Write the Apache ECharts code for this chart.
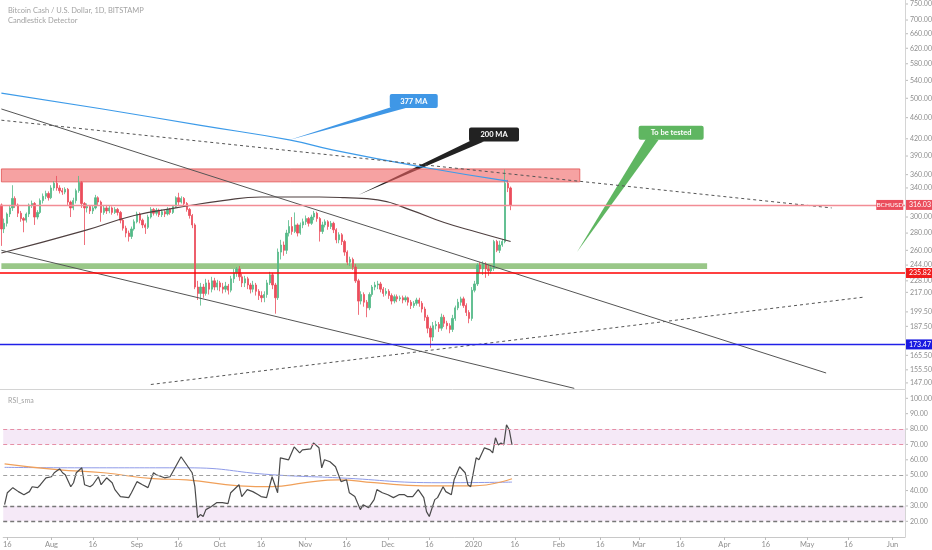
<!DOCTYPE html>
<html><head><meta charset="utf-8">
<script src="https://cdn.jsdelivr.net/npm/echarts@6/dist/echarts.min.js"></script>
<style>html,body{margin:0;padding:0;background:#fff}#c{width:932px;height:550px}</style>
</head><body><div id="c"></div>
<script>
// ---------- DATA ----------
const startDate = [2019, 6, 15];   // 2019-07-15 (UTC, month 0-based)
const dayCount = 327;              // axis runs to early June 2020

const opens  = [316,285,292,304,312,325,316,305,298,296,304,316,318,300,306,322,328,332,326,340,
347,340,336,334,338,320,312,322,336,348,318,312,314,308,312,326,320,306,312,308,
312,306,310,306,296,286,280,276,285,294,304,296,290,287,300,310,305,309,303,307,
304,310,306,314,326,320,325,318,310,302,290,222,216,222,216,226,220,228,222,226,
222,220,223,219,230,236,240,232,226,230,224,220,224,218,214,212,215,226,234,224,
212,258,266,260,280,288,282,290,280,290,294,298,292,300,305,298,282,290,294,288,
292,284,272,278,270,258,247,250,242,228,209,215,208,203,215,222,224,225,220,216,
218,214,209,213,211,212,210,212,208,205,207,210,207,202,195,186,179,188,189,186,
195,190,188,185,194,203,208,211,205,199,194,219,225,244,240,245,240,238,241,270,
260,266,270,347,340];
const closes = [285,292,304,312,325,316,305,298,296,304,316,318,300,306,322,328,332,326,340,347,
340,336,334,338,320,312,322,336,348,318,312,314,308,312,326,320,306,312,308,312,
306,310,306,296,286,280,276,285,294,304,296,290,287,300,310,305,309,303,307,304,
310,306,314,326,320,325,318,310,302,290,222,216,222,216,226,220,228,222,226,222,
220,223,219,230,236,240,232,226,230,224,220,224,218,214,212,215,226,234,224,212,
258,266,260,280,288,282,290,280,290,294,298,292,300,305,298,282,290,294,288,292,
284,272,278,270,258,247,250,242,228,209,215,208,203,215,222,224,225,220,216,218,
214,209,213,211,212,210,212,208,205,207,210,207,202,195,186,179,188,189,186,195,
190,188,185,194,203,208,211,205,199,194,219,225,244,240,245,240,238,241,270,260,
266,270,347,340,316.03];
const highs  = [318,298,306,316,344,328,318,308,300,306,318,322,320,309,325,332,336,335,344,350,
358,344,340,341,340,322,326,339,358,350,320,318,316,315,330,328,322,316,316,315,
314,313,312,308,298,289,283,288,297,307,306,298,292,303,313,312,312,311,310,309,
313,312,316,328,333,328,327,320,312,304,292,228,226,225,230,229,232,231,229,228,
226,227,225,233,240,242,243,235,233,232,226,228,226,220,218,218,229,237,236,226,
262,272,270,284,296,300,306,292,293,298,302,300,303,308,307,300,294,297,296,295,
294,286,281,280,272,260,253,252,245,230,218,217,210,217,224,227,228,227,222,221,
220,216,215,215,214,214,214,213,210,209,212,212,209,204,197,188,191,192,191,198,
197,192,190,197,205,211,213,213,207,201,222,228,246,247,248,247,244,244,272,272,
271,273,368,352,342];
const lows   = [265,280,288,300,308,312,300,294,281,293,300,312,290,297,304,318,324,322,324,336,
336,332,330,331,316,300,309,318,333,312,266,306,304,304,310,316,294,303,304,305,
303,304,302,292,283,275,270,273,283,292,292,286,279,285,298,302,302,300,300,300,
302,303,304,312,316,318,314,307,298,286,220,210,205,212,214,215,217,219,219,218,
216,217,215,217,226,232,228,222,222,220,216,217,214,210,208,208,212,224,220,198,
210,250,254,256,276,278,280,276,278,286,290,288,290,296,294,270,279,287,284,285,
280,268,268,266,254,244,243,239,226,197,206,204,195,201,213,219,220,217,213,214,
211,206,207,208,209,207,208,205,202,203,205,204,199,192,182,171,176,185,183,184,
187,185,182,183,192,201,205,203,196,190,192,217,223,236,234,231,233,235,238,258,
257,264,268,334,309];

// moving averages on price pane: [candle index, price]
const ma377 = [[0,511],[36,478],[72,445],[104,418],[120,400],[152,372],[183,350]];
const ma200 = [[0,257],[30,283],[48,302],[63,312],[80,322],[94,327],[115,327],[124,326],[136,323],[148,309],[160,293],[172,281],[184,270]];

// RSI pane: [candle index, value]
const rsi = [[0,30.8],[1,38.6],[3,41.9],[5,39.3],[7,37.3],[9,39.3],[10,42.5],[12,41.9],[13,43.8],[15,48.3],[17,49],[18,51.6],[20,54.2],[21,51.6],[22,50.3],[24,42.5],[25,45.1],[26,51.6],[28,54.8],[29,43.8],[31,42.5],[32,43.8],[34,49],[35,43.8],[37,48.3],[39,45.1],[40,40.6],[42,36.1],[45,35.4],[46,38.6],[48,45.8],[50,43.8],[52,41.9],[54,51.6],[55,50.3],[58,48.3],[60,49],[62,55.5],[64,62],[66,56.8],[68,51.6],[69,42.5],[70,22.4],[71,24.4],[72,23.1],[73,27.6],[75,29.6],[77,32.2],[79,32.2],[81,31.5],[82,38.6],[85,43.8],[86,36.1],[88,40.6],[90,39.3],[92,37.3],[93,36.1],[95,35.4],[97,49],[99,38.6],[100,61.3],[103,60],[105,68.4],[107,64.5],[108,66.5],[111,67.1],[112,71],[114,67.8],[115,54.8],[116,60],[118,58.7],[120,55.5],[122,45.8],[124,47],[125,38.6],[127,36.1],[129,27.6],[130,30.8],[132,28.9],[134,34.1],[135,40.6],[137,38.6],[139,37.3],[141,35.4],[143,37.3],[145,37.3],[146,36.1],[148,36.1],[150,40.6],[152,35.4],[153,26.3],[154,23.1],[156,34.1],[157,35.4],[159,42.5],[160,39.3],[162,37.3],[163,47],[165,55.5],[167,51.6],[168,43.8],[169,42.5],[171,61.3],[172,60],[174,67.8],[176,66.5],[177,64.5],[178,74.3],[179,69.7],[180,71],[181,69.7],[182,82.7],[183,79.5],[184,69.7]];
const rsiSlow = [[0,55.1],[28,54.8],[66,54.8],[97,50.3],[121,48.3],[158,45.1],[184,45.5]];
const rsiSma  = [[0,57.4],[19,53.6],[36,51.6],[54,47.7],[66,47],[85,43.1],[97,42.5],[109,45.1],[121,47],[134,45.1],[152,43.1],[170,43.1],[184,47.7]];

// axis tick labels
const priceTicks = [750,700,660,620,580,540,500,460,420,390,360,340,300,280,260,244,228,217,199.5,187.5,165.5,155.5,147];
const rsiTicks = [100,90,80,70,60,50,40,30,20];
const monthNames = ['Jan','Feb','Mar','Apr','May','Jun','Jul','Aug','Sep','Oct','Nov','Dec'];

// levels / zones / drawings
const lastPrice = 316.03;
const supportLine = 235.82;
const lowLine = 173.47;
const redZone = {from:0, to:209, low:349, high:369};
const greenZone = {from:0, to:255, low:240, high:246};
const trendLines = [
  {from:[0,477.5], to:[298,153.4], dashed:false},
  {from:[0,260],   to:[207,143.6], dashed:false},
  {from:[0,455],   to:[300,312],   dashed:true},
  {from:[54,146],  to:[312,212.7], dashed:true}
];
const callouts = [
  {text:'377 MA', color:'#3f97e6', box:[149,494], tip:[104,418], w:48, base:[5,16]},
  {text:'200 MA', color:'#222222', box:[178,428], tip:[129,330], w:50, base:[4,15]},
  {text:'To be tested', color:'#5fb661', box:[242,431], tip:[208,258], w:65, base:[8,20]}
];

// ---------- BUILD ----------
const categories = [];
for (let i = 0; i < dayCount; i++) {
  const d = new Date(Date.UTC(startDate[0], startDate[1], startDate[2] + i));
  categories.push(d.getUTCFullYear() + '-' + String(d.getUTCMonth()+1).padStart(2,'0') + '-' + String(d.getUTCDate()).padStart(2,'0'));
}
const candleData = opens.map((o, i) => [o, closes[i], lows[i], highs[i]]);
const isLabelDay = (idx, v) => v.endsWith('-01') || v.endsWith('-16');
const fmtDay = v => {
  const p = v.split('-');
  if (p[2] === '16') return '16';
  if (p[2] === '01') return p[1] === '01' ? p[0] : monthNames[+p[1]-1];
  return '';
};
const UP = '#53b987', DOWN = '#eb4d5c';
const FONT = 'Lato, "DejaVu Sans", sans-serif';
const AX = '#d4d4d4';

const trendLineData = trendLines.map(t => [
  {coord: t.from, lineStyle: {color: '#555', width: 1, type: t.dashed ? [3,3] : 'solid'}},
  {coord: t.to}
]);
const boxLabel = (bg) => ({show:true, position:'end', distance:1, color:'#fff', backgroundColor:bg, padding:[2,3,1,3], fontSize:7, fontFamily:FONT});
const levelSeries = (value, color, width, bg) => ({
  type:'line', xAxisIndex:0, yAxisIndex:0, data:[], z:5, silent:true,
  markLine:{silent:true, symbol:['none','none'], animation:false,
    lineStyle:{color:color, width:width, type:'solid', opacity:1},
    label:boxLabel(bg), data:[{yAxis:value}]}
});

const chart = echarts.init(document.getElementById('c'), null, {renderer:'canvas'});
chart.setOption({
  animation: false,
  backgroundColor: '#fff',
  title: [
    {text:'Bitcoin Cash / U.S. Dollar, 1D, BITSTAMP', subtext:'Candlestick Detector', left:3, top:2, itemGap:2,
     textStyle:{fontSize:7.5, color:'#a3a3a3', fontWeight:'normal', fontFamily:FONT},
     subtextStyle:{fontSize:7.5, color:'#a3a3a3', fontFamily:FONT}},
    {text:'RSI_sma', left:3, top:392, textStyle:{fontSize:7, color:'#a3a3a3', fontWeight:'normal', fontFamily:FONT}}
  ],
  grid: [
    {left:0, right:27, top:0, height:389},
    {left:0, right:27, top:390, height:147}
  ],
  xAxis: [
    {type:'category', gridIndex:0, data:categories, boundaryGap:true,
     axisLine:{show:true, lineStyle:{color:AX}}, axisTick:{show:false}, axisLabel:{show:false}, splitLine:{show:false}},
    {type:'category', gridIndex:1, data:categories, boundaryGap:true,
     axisLine:{show:true, lineStyle:{color:'#c8c8c8'}},
     axisTick:{show:true, interval:isLabelDay, alignWithLabel:true, length:3, lineStyle:{color:'#bdbdbd'}},
     axisLabel:{show:true, interval:isLabelDay, formatter:fmtDay, fontSize:7.5, color:'#8f8f8f', margin:4, fontFamily:FONT},
     splitLine:{show:false}}
  ],
  yAxis: [
    {type:'log', gridIndex:0, position:'right', min:143.2, max:763, logBase:10,
     axisLine:{show:true, lineStyle:{color:AX}}, axisTick:{show:false}, axisLabel:{show:false}, splitLine:{show:false}},
    {type:'value', gridIndex:1, position:'right', min:9.8, max:105.4,
     axisLine:{show:true, lineStyle:{color:AX}}, axisTick:{show:false}, axisLabel:{show:false}, splitLine:{show:false}}
  ],
  series: [
    {
      name:'BCHUSD', type:'candlestick', xAxisIndex:0, yAxisIndex:0, data:candleData, barWidth:1.8,
      itemStyle:{color:UP, color0:DOWN, borderColor:UP, borderColor0:DOWN, borderWidth:0.8},
      markArea:{silent:true, data:[
        [{xAxis:redZone.from, yAxis:redZone.low, itemStyle:{color:'rgba(240,100,100,0.6)', borderColor:'rgba(225,80,80,0.8)', borderWidth:1}},
         {xAxis:redZone.to, yAxis:redZone.high}],
        [{xAxis:greenZone.from, yAxis:greenZone.low, itemStyle:{color:'rgba(110,175,85,0.7)'}},
         {xAxis:greenZone.to, yAxis:greenZone.high}]
      ]},
      markLine:{silent:true, symbol:['none','none'], label:{show:false}, data: trendLineData},
      markPoint:{silent:true, data:[
        {coord:[321, lastPrice], symbol:'rect', symbolSize:[27,10], itemStyle:{color:DOWN},
         label:{show:true, position:'inside', formatter:'BCHUSD', color:'#fff', fontSize:6.5, fontFamily:FONT}}
      ]}
    },
    levelSeries(lastPrice, '#f28c95', 1.3, DOWN),
    levelSeries(supportLine, '#ff0000', 1.5, '#f01c1c'),
    levelSeries(lowLine, '#2020e8', 1.4, '#1a1ae0'),
    {name:'MA377', type:'line', xAxisIndex:0, yAxisIndex:0, data:ma377, smooth:true, showSymbol:false,
     lineStyle:{color:'#3d9be9', width:1.2}, z:3},
    {name:'MA200', type:'line', xAxisIndex:0, yAxisIndex:0, data:ma200, smooth:true, showSymbol:false,
     lineStyle:{color:'#4f4040', width:1.2}, z:3},
    {name:'RSI', type:'line', xAxisIndex:1, yAxisIndex:1, data:rsi, showSymbol:false,
     lineStyle:{color:'#4a4a4a', width:1.2}, z:4,
     markArea:{silent:true, itemStyle:{color:'rgba(156,39,176,0.1)'}, data:[
       [{yAxis:70},{yAxis:80}], [{yAxis:20},{yAxis:30}]
     ]},
     markLine:{silent:true, symbol:['none','none'], label:{show:false}, data:[
       {yAxis:80, lineStyle:{color:'#e58fa6', width:1, type:[4,3]}},
       {yAxis:70, lineStyle:{color:'#e58fa6', width:1, type:[4,3]}},
       {yAxis:50, lineStyle:{color:'#a0a0a0', width:1, type:[4,3]}},
       {yAxis:30, lineStyle:{color:'#777', width:1.3, type:[4,3]}},
       {yAxis:20, lineStyle:{color:'#777', width:1.3, type:[4,3]}}
     ]}},
    {name:'RSI slow', type:'line', xAxisIndex:1, yAxisIndex:1, data:rsiSlow, smooth:true, showSymbol:false,
     lineStyle:{color:'#8f9be8', width:1}, z:3},
    {name:'RSI sma', type:'line', xAxisIndex:1, yAxisIndex:1, data:rsiSma, smooth:true, showSymbol:false,
     lineStyle:{color:'#f0a05a', width:1.2}, z:3}
  ]
});

// ---------- axis labels & callouts positioned through the library's scales ----------
const gfx = [];
const axisX = chart.getWidth() - 27;
const addTick = (y, txt) => {
  gfx.push({type:'line', silent:true, shape:{x1:axisX, y1:y, x2:axisX+3, y2:y}, style:{stroke:'#bbb', lineWidth:1}});
  gfx.push({type:'text', silent:true, x:axisX+5, y:y, style:{text:txt, fill:'#8f8f8f', fontSize:7, fontFamily:FONT, verticalAlign:'middle'}});
};
priceTicks.forEach(v => addTick(chart.convertToPixel({yAxisIndex:0}, v), v.toFixed(2)));
rsiTicks.forEach(v => addTick(chart.convertToPixel({yAxisIndex:1}, v), v.toFixed(2)));

callouts.forEach(c => {
  const b = chart.convertToPixel({xAxisIndex:0, yAxisIndex:0}, c.box);
  const t = chart.convertToPixel({xAxisIndex:0, yAxisIndex:0}, c.tip);
  const h = 14, left = b[0] - c.w/2, top = b[1] - h/2;
  gfx.push({type:'polygon', silent:true, shape:{points:[[t[0],t[1]],[left+c.base[0], top+h-2],[left+c.base[1], top+h]]}, style:{fill:c.color}});
  gfx.push({type:'rect', silent:true, shape:{x:left, y:top, width:c.w, height:h, r:2}, style:{fill:c.color}});
  gfx.push({type:'text', silent:true, x:b[0], y:b[1], style:{text:c.text, fill:'#fff', fontSize:7.5, fontWeight:'bold', fontFamily:FONT, align:'center', verticalAlign:'middle'}});
});
chart.setOption({graphic: gfx});
</script>
</body></html>
